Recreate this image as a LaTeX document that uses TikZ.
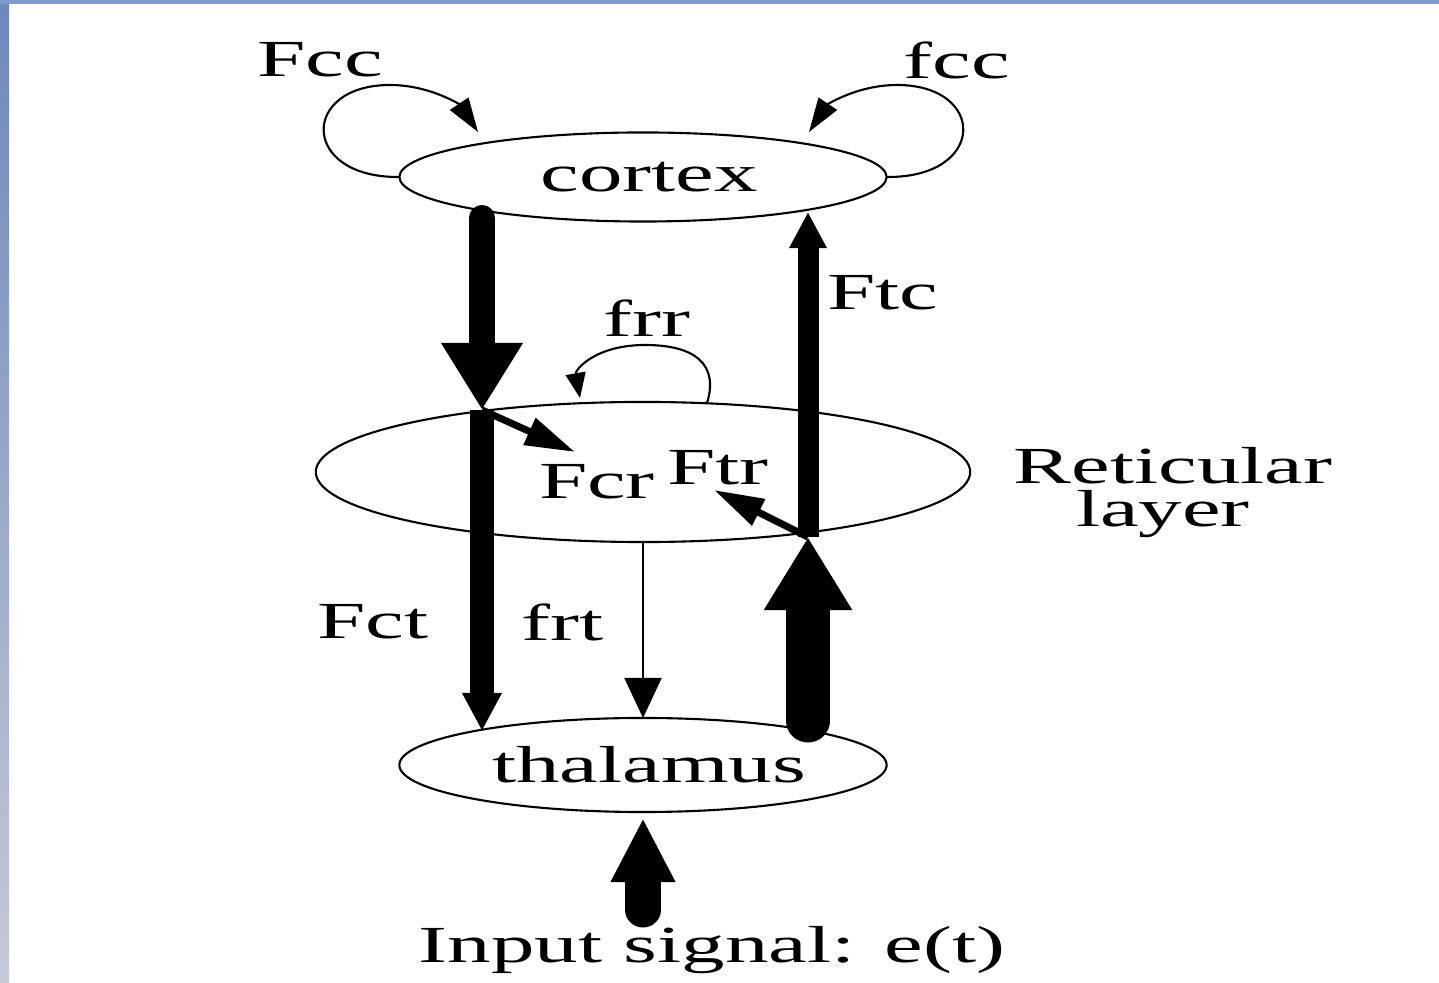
\documentclass[tikz,border=0pt]{standalone}
\usepackage{fontspec}
\newfontfamily\figfont[FakeStretch=1.67]{Liberation Serif}
\usepackage{tikz}
\usetikzlibrary{arrows.meta,positioning,shapes.geometric}
\definecolor{frameblue}{HTML}{6C88BC}
\definecolor{framegrey}{HTML}{C6C9D6}
\definecolor{topblue}{HTML}{7D99CD}

\begin{document}
\begin{tikzpicture}[
  x=0.01cm,y=-0.01cm,
  font=\figfont\fontsize{14.8}{15}\selectfont,
  region/.style={ellipse,draw,line width=0.6pt,inner sep=0pt,outer sep=0pt},
  lbl/.style={inner sep=0pt},
  loopline/.style={line width=0.6pt,-{Triangle[length=0.34cm,width=0.22cm]}},
  thinline/.style={line width=0.6pt,-{Triangle[length=0.40cm,width=0.37cm]}}
]
\useasboundingbox (0,0) rectangle (1439,983);
\shade[top color=frameblue,bottom color=framegrey] (0,0) rectangle (9,983);
\fill[topblue] (0,0) rectangle (1439,4);

\node[region,minimum width=4.87cm,minimum height=0.89cm] (cortex) at (643,177) {\hspace{0.12cm}cortex};
\node[region,minimum width=6.54cm,minimum height=1.40cm] (retic) at (643,472) {};
\node[region,minimum width=4.87cm,minimum height=0.94cm] (thalamus) at (643,765) {\hspace{0.12cm}thalamus};

\node[lbl] (fccL) at (320,60) {Fcc};
\node[lbl] (fccR) at (957,60) {fcc};
\node[lbl] (frr) at (647,318) {frr};
\node[lbl] (ftc) at (883,293) {Ftc};
\node[lbl] (fcr) at (597,482) {Fcr};
\node[lbl] (ftr) at (718,468) {Ftr};
\node[lbl] (reticular) at (1173,466) {Reticular};
\node[lbl,below=0.05cm of reticular,xshift=-0.1cm] (layer) {layer};
\node[lbl] (fct) at (373,622) {Fct};
\node[lbl] (frt) at (563,622) {frt};
\node[lbl] (input) at (712,950) {Input signal: e(t)};

\coordinate (ctxout) at (482,218);
\coordinate (cr) at (482,410);
\coordinate (ctin) at (482,731);
\coordinate (fcrend) at (575,452);
\coordinate (thout) at (808,721);
\coordinate (tr) at (808,537);
\coordinate (ctxin) at (808,212);
\coordinate (ftrend) at (714,490);
\coordinate (inp) at (643,910);

\draw[loopline] (cortex.west) .. controls (300,178) and (300,85) .. (390,85) .. controls (430,85) and (460,105) .. (478,132);
\draw[loopline] (cortex.east) .. controls (987,178) and (987,85) .. (897,85) .. controls (857,85) and (827,105) .. (809,132);
\draw[line width=0.6pt,-{Triangle[length=0.25cm,width=0.20cm]}] (707,403) .. controls (716,375) and (708,345) .. (645,345) .. controls (595,345) and (575,370) .. (580,398);

\draw[line width=0.24cm,-{Triangle[length=0.38cm,width=0.37cm]}] (cr) -- (ctin);
\draw[line width=0.26cm,line cap=round,-{Triangle[length=0.67cm,width=0.77cm]}] (ctxout) -- (cr);
\draw[line width=0.07cm,-{Triangle[length=0.50cm,width=0.28cm]}] (cr) -- (fcrend);

\draw[line width=0.21cm,-{Triangle[length=0.36cm,width=0.35cm]}] (tr) -- (ctxin);
\draw[line width=0.43cm,line cap=round,-{Triangle[length=0.73cm,width=0.83cm]}] (thout) -- (tr);
\draw[line width=0.07cm,-{Triangle[length=0.50cm,width=0.28cm]}] (tr) -- (ftrend);

\draw[thinline] (retic.south) -- (thalamus.north);
\draw[line width=0.35cm,line cap=round,shorten >=0.06cm,-{Triangle[length=0.64cm,width=0.60cm]}] (inp) -- (thalamus.south);
\end{tikzpicture}
\end{document}
